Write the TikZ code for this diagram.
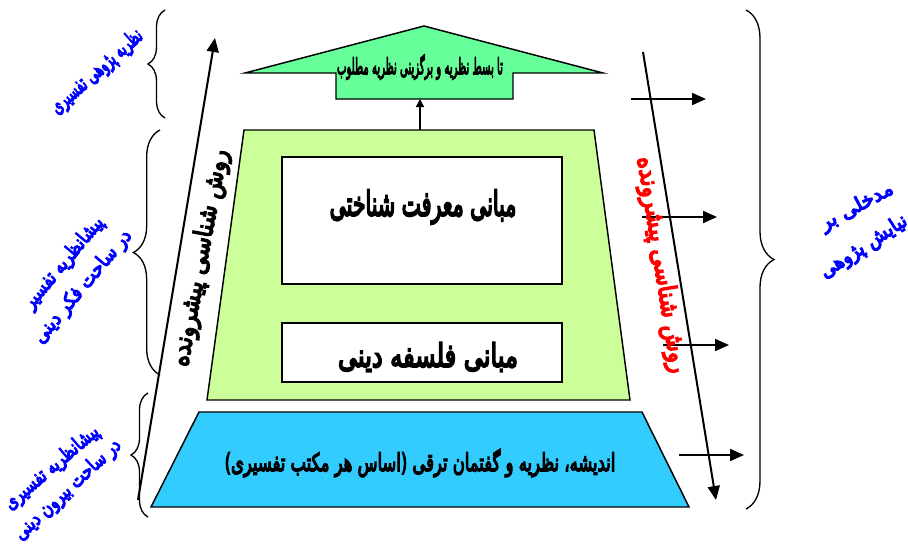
\documentclass[tikz,border=0pt]{standalone}
\usepackage{fontspec}
\usepackage{graphicx}
\usetikzlibrary{arrows.meta,decorations.pathreplacing}
\TeXXeTstate=1
\newfontfamily\fafont[Script=Arabic,FakeBold=6]{DejaVu Sans}
\newcommand\fat[3]{\resizebox*{#1}{#2}{\fafont #3}}
\definecolor{lgreen}{HTML}{CCFF99}
\definecolor{agreen}{HTML}{66FF99}
\definecolor{lblue}{HTML}{33CCFF}
\tikzset{
  shp/.style={draw=black, line width=1.1pt, line join=miter},
  arr/.style={line width=1.5pt, -{Triangle[length=10.5pt,width=9pt]}},
  sarr/.style={line width=1.1pt, -{Triangle[length=6pt,width=6pt]}},
  brc/.style={draw, line width=1pt, decorate, decoration={brace, amplitude=#1}},
  lbl/.style={inner sep=0pt, text=blue},
  txt/.style={inner sep=0pt, text=black}
}
\begin{document}
\begin{tikzpicture}[x=0.75pt, y=-0.75pt]
\useasboundingbox (0,0) rectangle (908,544);
% braces
\coordinate (b1a) at (165,118); \coordinate (b1b) at (165,10);
\coordinate (b2a) at (160,375); \coordinate (b2b) at (160,130);
\coordinate (b3a) at (148,517); \coordinate (b3b) at (148,393);
\coordinate (b4a) at (746,10);  \coordinate (b4b) at (746,509);
\draw[brc=12.75pt] (b1a) -- (b1b);
\draw[brc=20pt] (b2a) -- (b2b);
\draw[brc=12.75pt] (b3a) -- (b3b);
\draw[brc=21pt] (b4a) -- (b4b);
% green trapezoid
\coordinate (gTL) at (244,130); \coordinate (gTR) at (594,130);
\coordinate (gBR) at (630,400); \coordinate (gBL) at (207,400);
\draw[shp, fill=lgreen] (gTL) -- (gTR) -- (gBR) -- (gBL) -- cycle;
% white boxes
\draw[shp, fill=white] (282,157) rectangle (562,284);
\draw[shp, fill=white] (282,323) rectangle (562,382);
% blue trapezoid
\coordinate (bTL) at (199,412); \coordinate (bTR) at (642,412);
\coordinate (bBR) at (689,507); \coordinate (bBL) at (151,507);
\draw[shp, fill=lblue] (bTL) -- (bTR) -- (bBR) -- (bBL) -- cycle;
% top arrow shape
\draw[shp, fill=agreen] (245,73) -- (424,26) -- (603,73) -- (513,73) -- (513,99) -- (336,99) -- (336,73) -- cycle;
\coordinate (stemB) at (420,99); \coordinate (gTop) at (420,130);
\draw[sarr] (gTop) -- (stemB);
% left up arrow and right down arrow
\coordinate (la0) at (138,500); \coordinate (la1) at (215,38);
\draw[arr] (la0) -- (la1);
\coordinate (ra0) at (643,52); \coordinate (ra1) at (716,500);
\draw[arr] (ra0) -- (ra1);
% horizontal arrows
\coordinate (h1a) at (631,99);  \coordinate (h1b) at (706,99);
\coordinate (h2a) at (642,217); \coordinate (h2b) at (717,217);
\coordinate (h3a) at (663,345); \coordinate (h3b) at (729,345);
\coordinate (h4a) at (679,455); \coordinate (h4b) at (744,455);
\draw[arr] (h1a) -- (h1b);
\draw[arr] (h2a) -- (h2b);
\draw[arr] (h3a) -- (h3b);
\draw[arr] (h4a) -- (h4b);
% texts
\node[txt] (tTop) at (420,67) {\fat{124.5pt}{19pt}{\beginR تا بسط نظریه و برگزینی نظریه مطلوب\endR}};
\node[txt] (tBox1) at (423,207) {\fat{140pt}{26pt}{\beginR مبانی معرفت شناختی\endR}};
\node[txt] (tBox2) at (428,357) {\fat{135pt}{22pt}{\beginR مبانی فلسفه دینی\endR}};
\node[txt] (tBlue) at (420,463) {\fat{293pt}{21pt}{\beginR اندیشه، نظریه و گفتمان ترقی (اساس هر مکتب تفسیری)\endR}};
\node[txt, rotate=79.5] (tLeft) at (201,258) {\fat{165pt}{19pt}{\beginR روش شناسی پیشرونده\endR}};
\node[txt, text=red, rotate=-81] (tRed) at (661,265) {\fat{164pt}{19pt}{\beginR روش شناسی پیشرونده\endR}};
\node[lbl, rotate=41.5] (l1) at (97,72) {\fat{87pt}{16pt}{\beginR نظریه پژوهی تفسیری\endR}};
\node[lbl, rotate=50] (l2a) at (64,263) {\fat{85pt}{15pt}{\beginR پیشانظریه تفسیر\endR}};
\node[lbl, rotate=50] (l2b) at (83,287) {\fat{106pt}{15pt}{\beginR در ساحت فکر دینی\endR}};
\node[lbl, rotate=40.5] (l3a) at (52,468) {\fat{88.5pt}{15pt}{\beginR پیشانظریه تفسیری\endR}};
\node[lbl, rotate=43] (l3b) at (68,490) {\fat{103.5pt}{15pt}{\beginR در ساحت بیرون دینی\endR}};
\node[lbl, rotate=28] (r1) at (857,207) {\fat{60pt}{15pt}{\beginR مدخلی بر\endR}};
\node[lbl, rotate=33] (r2) at (864,247) {\fat{75pt}{15pt}{\beginR نیایش پژوهی\endR}};
\end{tikzpicture}
\end{document}
